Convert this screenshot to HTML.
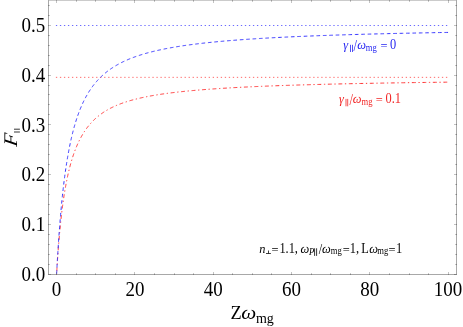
<!DOCTYPE html>
<html><head><meta charset="utf-8"><title>plot</title>
<style>
html,body{margin:0;padding:0;background:#fff;}
body{width:463px;height:327px;overflow:hidden;font-family:"Liberation Serif",serif;}
svg{display:block;font-family:"Liberation Serif",serif;will-change:transform;}
.i{font-style:italic;}
</style></head><body>
<svg width="463" height="327" viewBox="0 0 463 327">
<rect width="463" height="327" fill="#fff"/>
<g fill="none" stroke-width="1">
<line x1="55.90" y1="25.50" x2="448.10" y2="25.50" stroke="#6262ff" stroke-width="0.95" stroke-dasharray="1.3 2.721"/>
<line x1="55.90" y1="77.35" x2="448.10" y2="77.35" stroke="#ff6262" stroke-width="0.95" stroke-dasharray="1.3 2.721"/>
<path d="M56.60,274.30 L56.60,274.29 L56.60,274.28 L56.60,274.24 L56.61,274.19 L56.61,274.12 L56.62,274.03 L56.62,273.92 L56.63,273.79 L56.64,273.64 L56.65,273.47 L56.66,273.28 L56.67,273.07 L56.69,272.83 L56.70,272.57 L56.72,272.29 L56.73,271.99 L56.75,271.66 L56.77,271.31 L56.80,270.94 L56.82,270.55 L56.85,270.13 L56.87,269.70 L56.90,269.24 L56.93,268.75 L56.96,268.25 L56.99,267.72 L57.03,267.17 L57.06,266.60 L57.10,266.01 L57.14,265.39 L57.18,264.76 L57.22,264.10 L57.26,263.43 L57.31,262.73 L57.35,262.02 L57.40,261.29 L57.45,260.53 L57.50,259.76 L57.56,258.97 L57.61,258.17 L57.67,257.34 L57.73,256.50 L57.79,255.64 L57.85,254.77 L57.91,253.88 L57.98,252.98 L58.04,252.06 L58.11,251.13 L58.18,250.18 L58.25,249.23 L58.33,248.25 L58.40,247.27 L58.48,246.28 L58.56,245.27 L58.64,244.26 L58.72,243.23 L58.81,242.19 L58.89,241.15 L58.98,240.09 L59.07,239.03 L59.16,237.96 L59.25,236.89 L59.35,235.80 L59.45,234.71 L59.55,233.62 L59.65,232.52 L59.75,231.41 L59.85,230.30 L59.96,229.19 L60.07,228.07 L60.18,226.95 L60.29,225.83 L60.40,224.71 L60.52,223.58 L60.64,222.45 L60.76,221.32 L60.88,220.19 L61.00,219.06 L61.12,217.93 L61.25,216.80 L61.38,215.67 L61.51,214.54 L61.64,213.41 L61.78,212.28 L61.92,211.16 L62.05,210.04 L62.19,208.92 L62.34,207.80 L62.48,206.69 L62.63,205.58 L62.78,204.47 L62.93,203.37 L63.08,202.27 L63.23,201.17 L63.39,200.08 L63.55,199.00 L63.71,197.92 L63.87,196.84 L64.03,195.77 L64.20,194.70 L64.37,193.64 L64.54,192.59 L64.71,191.54 L64.88,190.49 L65.06,189.46 L65.24,188.43 L65.42,187.40 L65.60,186.38 L65.79,185.37 L65.97,184.37 L66.16,183.37 L66.35,182.37 L66.54,181.39 L66.74,180.41 L66.94,179.44 L67.13,178.48 L67.34,177.52 L67.54,176.57 L67.74,175.63 L67.95,174.69 L68.16,173.76 L68.37,172.84 L68.58,171.93 L68.80,171.02 L69.02,170.13 L69.24,169.23 L69.46,168.35 L69.68,167.47 L69.91,166.61 L70.14,165.74 L70.37,164.89 L70.60,164.04 L70.83,163.21 L71.07,162.37 L71.31,161.55 L71.55,160.73 L71.79,159.93 L72.04,159.12 L72.28,158.33 L72.53,157.54 L72.78,156.76 L73.04,155.99 L73.29,155.23 L73.55,154.47 L73.81,153.72 L74.07,152.98 L74.34,152.24 L74.60,151.51 L74.87,150.79 L75.14,150.08 L75.42,149.37 L75.69,148.67 L75.97,147.98 L76.25,147.29 L76.53,146.61 L76.81,145.94 L77.10,145.27 L77.39,144.61 L77.68,143.96 L77.97,143.32 L78.27,142.68 L78.57,142.05 L78.86,141.42 L79.17,140.80 L79.47,140.19 L79.78,139.58 L80.08,138.98 L80.39,138.39 L80.71,137.80 L81.02,137.22 L81.34,136.65 L81.66,136.08 L81.98,135.52 L82.30,134.96 L82.63,134.41 L82.96,133.86 L83.29,133.33 L83.62,132.79 L83.96,132.27 L84.29,131.75 L84.63,131.23 L84.98,130.72 L85.32,130.22 L85.67,129.72 L86.02,129.22 L86.37,128.74 L86.72,128.25 L87.08,127.78 L87.43,127.30 L87.79,126.84 L88.16,126.38 L88.52,125.92 L88.89,125.47 L89.26,125.02 L89.63,124.58 L90.00,124.15 L90.38,123.72 L90.76,123.29 L91.14,122.87 L91.52,122.45 L91.90,122.04 L92.29,121.63 L92.68,121.23 L93.07,120.83 L93.47,120.44 L93.87,120.05 L94.26,119.66 L94.67,119.28 L95.07,118.91 L95.48,118.53 L95.88,118.17 L96.30,117.80 L96.71,117.44 L97.12,117.09 L97.54,116.74 L97.96,116.39 L98.38,116.05 L98.81,115.71 L99.24,115.37 L99.67,115.04 L100.10,114.72 L100.53,114.39 L100.97,114.07 L101.41,113.76 L101.85,113.44 L102.29,113.13 L102.74,112.83 L103.19,112.53 L103.64,112.23 L104.09,111.93 L104.55,111.64 L105.00,111.35 L105.46,111.07 L105.93,110.79 L106.39,110.51 L106.86,110.23 L107.33,109.96 L107.80,109.69 L108.27,109.42 L108.75,109.16 L109.23,108.90 L109.71,108.64 L110.20,108.39 L110.68,108.14 L111.17,107.89 L111.66,107.65 L112.16,107.40 L112.65,107.16 L113.15,106.93 L113.65,106.69 L114.15,106.46 L114.66,106.23 L115.17,106.00 L115.68,105.78 L116.19,105.56 L116.71,105.34 L117.23,105.12 L117.75,104.91 L118.27,104.69 L118.79,104.48 L119.32,104.28 L119.85,104.07 L120.38,103.87 L120.92,103.67 L121.45,103.47 L121.99,103.27 L122.54,103.08 L123.08,102.89 L123.63,102.70 L124.18,102.51 L124.73,102.32 L125.28,102.14 L125.84,101.96 L126.40,101.78 L126.96,101.60 L127.52,101.43 L128.09,101.25 L128.66,101.08 L129.23,100.91 L129.81,100.74 L130.38,100.57 L130.96,100.41 L131.54,100.25 L132.13,100.08 L132.71,99.92 L133.30,99.77 L133.89,99.61 L134.49,99.45 L135.08,99.30 L135.68,99.15 L136.28,99.00 L136.89,98.85 L137.49,98.70 L138.10,98.56 L138.71,98.41 L139.33,98.27 L139.94,98.13 L140.56,97.99 L141.18,97.85 L141.81,97.71 L142.43,97.57 L143.06,97.44 L143.69,97.31 L144.32,97.17 L144.96,97.04 L145.60,96.91 L146.24,96.79 L146.88,96.66 L147.53,96.53 L148.18,96.41 L148.83,96.28 L149.48,96.16 L150.14,96.04 L150.80,95.92 L151.46,95.80 L152.12,95.68 L152.79,95.57 L153.46,95.45 L154.13,95.34 L154.80,95.22 L155.48,95.11 L156.16,95.00 L156.84,94.89 L157.52,94.78 L158.21,94.67 L158.90,94.57 L159.59,94.46 L160.29,94.35 L160.98,94.25 L161.68,94.15 L162.38,94.04 L163.09,93.94 L163.80,93.84 L164.50,93.74 L165.22,93.64 L165.93,93.54 L166.65,93.45 L167.37,93.35 L168.09,93.25 L168.82,93.16 L169.54,93.06 L170.27,92.97 L171.01,92.88 L171.74,92.79 L172.48,92.70 L173.22,92.61 L173.96,92.52 L174.71,92.43 L175.45,92.34 L176.20,92.25 L176.96,92.17 L177.71,92.08 L178.47,91.99 L179.23,91.91 L180.00,91.83 L180.76,91.74 L181.53,91.66 L182.30,91.58 L183.08,91.50 L183.85,91.42 L184.63,91.34 L185.41,91.26 L186.20,91.18 L186.98,91.10 L187.77,91.03 L188.56,90.95 L189.36,90.87 L190.16,90.80 L190.96,90.72 L191.76,90.65 L192.56,90.58 L193.37,90.50 L194.18,90.43 L194.99,90.36 L195.81,90.29 L196.63,90.22 L197.45,90.15 L198.27,90.08 L199.10,90.01 L199.93,89.94 L200.76,89.87 L201.59,89.80 L202.43,89.74 L203.27,89.67 L204.11,89.61 L204.95,89.54 L205.80,89.47 L206.65,89.41 L207.50,89.35 L208.35,89.28 L209.21,89.22 L210.07,89.16 L210.93,89.10 L211.80,89.03 L212.67,88.97 L213.54,88.91 L214.41,88.85 L215.29,88.79 L216.17,88.73 L217.05,88.67 L217.93,88.62 L218.82,88.56 L219.71,88.50 L220.60,88.44 L221.49,88.39 L222.39,88.33 L223.29,88.27 L224.19,88.22 L225.10,88.16 L226.00,88.11 L226.91,88.05 L227.83,88.00 L228.74,87.95 L229.66,87.89 L230.58,87.84 L231.51,87.79 L232.43,87.73 L233.36,87.68 L234.29,87.63 L235.23,87.58 L236.16,87.53 L237.10,87.48 L238.05,87.43 L238.99,87.38 L239.94,87.33 L240.89,87.28 L241.84,87.23 L242.80,87.19 L243.76,87.14 L244.72,87.09 L245.68,87.04 L246.65,87.00 L247.62,86.95 L248.59,86.90 L249.56,86.86 L250.54,86.81 L251.52,86.77 L252.50,86.72 L253.49,86.68 L254.48,86.63 L255.47,86.59 L256.46,86.54 L257.46,86.50 L258.46,86.46 L259.46,86.42 L260.46,86.37 L261.47,86.33 L262.48,86.29 L263.49,86.25 L264.51,86.20 L265.52,86.16 L266.54,86.12 L267.57,86.08 L268.59,86.04 L269.62,86.00 L270.65,85.96 L271.69,85.92 L272.72,85.88 L273.76,85.84 L274.81,85.80 L275.85,85.77 L276.90,85.73 L277.95,85.69 L279.00,85.65 L280.06,85.61 L281.12,85.58 L282.18,85.54 L283.24,85.50 L284.31,85.47 L285.38,85.43 L286.45,85.39 L287.53,85.36 L288.60,85.32 L289.68,85.29 L290.77,85.25 L291.85,85.22 L292.94,85.18 L294.03,85.15 L295.13,85.11 L296.22,85.08 L297.32,85.04 L298.43,85.01 L299.53,84.98 L300.64,84.94 L301.75,84.91 L302.86,84.88 L303.98,84.85 L305.10,84.81 L306.22,84.78 L307.34,84.75 L308.47,84.72 L309.60,84.69 L310.73,84.65 L311.87,84.62 L313.01,84.59 L314.15,84.56 L315.29,84.53 L316.44,84.50 L317.59,84.47 L318.74,84.44 L319.89,84.41 L321.05,84.38 L322.21,84.35 L323.38,84.32 L324.54,84.29 L325.71,84.26 L326.88,84.23 L328.06,84.20 L329.23,84.18 L330.41,84.15 L331.60,84.12 L332.78,84.09 L333.97,84.06 L335.16,84.04 L336.35,84.01 L337.55,83.98 L338.75,83.95 L339.95,83.93 L341.16,83.90 L342.36,83.87 L343.57,83.85 L344.79,83.82 L346.00,83.79 L347.22,83.77 L348.44,83.74 L349.67,83.71 L350.89,83.69 L352.12,83.66 L353.36,83.64 L354.59,83.61 L355.83,83.59 L357.07,83.56 L358.32,83.54 L359.56,83.51 L360.81,83.49 L362.07,83.46 L363.32,83.44 L364.58,83.42 L365.84,83.39 L367.10,83.37 L368.37,83.34 L369.64,83.32 L370.91,83.30 L372.19,83.27 L373.46,83.25 L374.74,83.23 L376.03,83.21 L377.31,83.18 L378.60,83.16 L379.89,83.14 L381.19,83.11 L382.49,83.09 L383.79,83.07 L385.09,83.05 L386.39,83.03 L387.70,83.00 L389.01,82.98 L390.33,82.96 L391.65,82.94 L392.97,82.92 L394.29,82.90 L395.61,82.88 L396.94,82.86 L398.27,82.83 L399.61,82.81 L400.95,82.79 L402.29,82.77 L403.63,82.75 L404.97,82.73 L406.32,82.71 L407.67,82.69 L409.03,82.67 L410.38,82.65 L411.74,82.63 L413.11,82.61 L414.47,82.59 L415.84,82.57 L417.21,82.55 L418.59,82.53 L419.96,82.52 L421.34,82.50 L422.73,82.48 L424.11,82.46 L425.50,82.44 L426.89,82.42 L428.28,82.40 L429.68,82.38 L431.08,82.37 L432.48,82.35 L433.89,82.33 L435.30,82.31 L436.71,82.29 L438.12,82.28 L439.54,82.26 L440.96,82.24 L442.38,82.22 L443.81,82.21 L445.23,82.19 L446.67,82.17 L448.10,82.15" stroke="#ff3636" stroke-dasharray="1.3 2.65 3.9 2.65" stroke-dashoffset="0.9"/>
<path d="M56.60,274.30 L56.60,274.29 L56.60,274.27 L56.60,274.23 L56.61,274.18 L56.61,274.10 L56.62,274.00 L56.62,273.88 L56.63,273.74 L56.64,273.57 L56.65,273.38 L56.66,273.17 L56.67,272.93 L56.69,272.67 L56.70,272.38 L56.72,272.07 L56.73,271.74 L56.75,271.37 L56.77,270.99 L56.80,270.57 L56.82,270.14 L56.85,269.67 L56.87,269.18 L56.90,268.67 L56.93,268.13 L56.96,267.56 L56.99,266.97 L57.03,266.36 L57.06,265.72 L57.10,265.05 L57.14,264.36 L57.18,263.65 L57.22,262.91 L57.26,262.15 L57.31,261.37 L57.35,260.56 L57.40,259.73 L57.45,258.88 L57.50,258.00 L57.56,257.11 L57.61,256.19 L57.67,255.25 L57.73,254.29 L57.79,253.31 L57.85,252.31 L57.91,251.30 L57.98,250.26 L58.04,249.21 L58.11,248.13 L58.18,247.04 L58.25,245.94 L58.33,244.82 L58.40,243.68 L58.48,242.52 L58.56,241.36 L58.64,240.17 L58.72,238.98 L58.81,237.77 L58.89,236.55 L58.98,235.32 L59.07,234.07 L59.16,232.81 L59.25,231.55 L59.35,230.27 L59.45,228.99 L59.55,227.69 L59.65,226.39 L59.75,225.08 L59.85,223.76 L59.96,222.43 L60.07,221.10 L60.18,219.76 L60.29,218.42 L60.40,217.07 L60.52,215.72 L60.64,214.36 L60.76,213.00 L60.88,211.64 L61.00,210.28 L61.12,208.91 L61.25,207.54 L61.38,206.17 L61.51,204.80 L61.64,203.43 L61.78,202.05 L61.92,200.68 L62.05,199.31 L62.19,197.94 L62.34,196.57 L62.48,195.21 L62.63,193.84 L62.78,192.48 L62.93,191.12 L63.08,189.76 L63.23,188.41 L63.39,187.06 L63.55,185.71 L63.71,184.37 L63.87,183.04 L64.03,181.70 L64.20,180.38 L64.37,179.06 L64.54,177.74 L64.71,176.43 L64.88,175.13 L65.06,173.83 L65.24,172.54 L65.42,171.25 L65.60,169.97 L65.79,168.70 L65.97,167.43 L66.16,166.18 L66.35,164.93 L66.54,163.68 L66.74,162.45 L66.94,161.22 L67.13,160.00 L67.34,158.79 L67.54,157.59 L67.74,156.39 L67.95,155.21 L68.16,154.03 L68.37,152.86 L68.58,151.70 L68.80,150.54 L69.02,149.40 L69.24,148.26 L69.46,147.14 L69.68,146.02 L69.91,144.91 L70.14,143.81 L70.37,142.72 L70.60,141.64 L70.83,140.56 L71.07,139.50 L71.31,138.44 L71.55,137.40 L71.79,136.36 L72.04,135.33 L72.28,134.31 L72.53,133.31 L72.78,132.30 L73.04,131.31 L73.29,130.33 L73.55,129.36 L73.81,128.39 L74.07,127.44 L74.34,126.49 L74.60,125.55 L74.87,124.62 L75.14,123.70 L75.42,122.79 L75.69,121.89 L75.97,121.00 L76.25,120.11 L76.53,119.24 L76.81,118.37 L77.10,117.51 L77.39,116.66 L77.68,115.82 L77.97,114.98 L78.27,114.16 L78.57,113.34 L78.86,112.53 L79.17,111.73 L79.47,110.94 L79.78,110.16 L80.08,109.38 L80.39,108.61 L80.71,107.85 L81.02,107.10 L81.34,106.36 L81.66,105.62 L81.98,104.89 L82.30,104.17 L82.63,103.46 L82.96,102.75 L83.29,102.05 L83.62,101.36 L83.96,100.68 L84.29,100.00 L84.63,99.33 L84.98,98.67 L85.32,98.02 L85.67,97.37 L86.02,96.73 L86.37,96.09 L86.72,95.47 L87.08,94.85 L87.43,94.23 L87.79,93.62 L88.16,93.02 L88.52,92.43 L88.89,91.84 L89.26,91.26 L89.63,90.68 L90.00,90.11 L90.38,89.55 L90.76,89.00 L91.14,88.44 L91.52,87.90 L91.90,87.36 L92.29,86.83 L92.68,86.30 L93.07,85.78 L93.47,85.26 L93.87,84.75 L94.26,84.25 L94.67,83.75 L95.07,83.25 L95.48,82.77 L95.88,82.28 L96.30,81.80 L96.71,81.33 L97.12,80.86 L97.54,80.40 L97.96,79.94 L98.38,79.49 L98.81,79.04 L99.24,78.60 L99.67,78.16 L100.10,77.73 L100.53,77.30 L100.97,76.88 L101.41,76.46 L101.85,76.04 L102.29,75.63 L102.74,75.22 L103.19,74.82 L103.64,74.42 L104.09,74.03 L104.55,73.64 L105.00,73.26 L105.46,72.88 L105.93,72.50 L106.39,72.13 L106.86,71.76 L107.33,71.39 L107.80,71.03 L108.27,70.68 L108.75,70.32 L109.23,69.97 L109.71,69.63 L110.20,69.28 L110.68,68.95 L111.17,68.61 L111.66,68.28 L112.16,67.95 L112.65,67.63 L113.15,67.30 L113.65,66.99 L114.15,66.67 L114.66,66.36 L115.17,66.05 L115.68,65.75 L116.19,65.44 L116.71,65.15 L117.23,64.85 L117.75,64.56 L118.27,64.27 L118.79,63.98 L119.32,63.70 L119.85,63.42 L120.38,63.14 L120.92,62.86 L121.45,62.59 L121.99,62.32 L122.54,62.05 L123.08,61.79 L123.63,61.53 L124.18,61.27 L124.73,61.01 L125.28,60.76 L125.84,60.51 L126.40,60.26 L126.96,60.01 L127.52,59.77 L128.09,59.53 L128.66,59.29 L129.23,59.05 L129.81,58.82 L130.38,58.58 L130.96,58.36 L131.54,58.13 L132.13,57.90 L132.71,57.68 L133.30,57.46 L133.89,57.24 L134.49,57.02 L135.08,56.81 L135.68,56.59 L136.28,56.38 L136.89,56.18 L137.49,55.97 L138.10,55.76 L138.71,55.56 L139.33,55.36 L139.94,55.16 L140.56,54.97 L141.18,54.77 L141.81,54.58 L142.43,54.39 L143.06,54.20 L143.69,54.01 L144.32,53.82 L144.96,53.64 L145.60,53.45 L146.24,53.27 L146.88,53.09 L147.53,52.92 L148.18,52.74 L148.83,52.57 L149.48,52.39 L150.14,52.22 L150.80,52.05 L151.46,51.88 L152.12,51.72 L152.79,51.55 L153.46,51.39 L154.13,51.22 L154.80,51.06 L155.48,50.90 L156.16,50.75 L156.84,50.59 L157.52,50.43 L158.21,50.28 L158.90,50.13 L159.59,49.98 L160.29,49.83 L160.98,49.68 L161.68,49.53 L162.38,49.39 L163.09,49.24 L163.80,49.10 L164.50,48.95 L165.22,48.81 L165.93,48.67 L166.65,48.54 L167.37,48.40 L168.09,48.26 L168.82,48.13 L169.54,47.99 L170.27,47.86 L171.01,47.73 L171.74,47.60 L172.48,47.47 L173.22,47.34 L173.96,47.21 L174.71,47.09 L175.45,46.96 L176.20,46.84 L176.96,46.71 L177.71,46.59 L178.47,46.47 L179.23,46.35 L180.00,46.23 L180.76,46.11 L181.53,46.00 L182.30,45.88 L183.08,45.76 L183.85,45.65 L184.63,45.54 L185.41,45.42 L186.20,45.31 L186.98,45.20 L187.77,45.09 L188.56,44.98 L189.36,44.87 L190.16,44.77 L190.96,44.66 L191.76,44.55 L192.56,44.45 L193.37,44.35 L194.18,44.24 L194.99,44.14 L195.81,44.04 L196.63,43.94 L197.45,43.84 L198.27,43.74 L199.10,43.64 L199.93,43.54 L200.76,43.45 L201.59,43.35 L202.43,43.25 L203.27,43.16 L204.11,43.07 L204.95,42.97 L205.80,42.88 L206.65,42.79 L207.50,42.70 L208.35,42.61 L209.21,42.52 L210.07,42.43 L210.93,42.34 L211.80,42.25 L212.67,42.16 L213.54,42.08 L214.41,41.99 L215.29,41.91 L216.17,41.82 L217.05,41.74 L217.93,41.65 L218.82,41.57 L219.71,41.49 L220.60,41.41 L221.49,41.33 L222.39,41.25 L223.29,41.17 L224.19,41.09 L225.10,41.01 L226.00,40.93 L226.91,40.85 L227.83,40.78 L228.74,40.70 L229.66,40.62 L230.58,40.55 L231.51,40.47 L232.43,40.40 L233.36,40.32 L234.29,40.25 L235.23,40.18 L236.16,40.11 L237.10,40.03 L238.05,39.96 L238.99,39.89 L239.94,39.82 L240.89,39.75 L241.84,39.68 L242.80,39.62 L243.76,39.55 L244.72,39.48 L245.68,39.41 L246.65,39.34 L247.62,39.28 L248.59,39.21 L249.56,39.15 L250.54,39.08 L251.52,39.02 L252.50,38.95 L253.49,38.89 L254.48,38.83 L255.47,38.76 L256.46,38.70 L257.46,38.64 L258.46,38.58 L259.46,38.52 L260.46,38.45 L261.47,38.39 L262.48,38.33 L263.49,38.27 L264.51,38.22 L265.52,38.16 L266.54,38.10 L267.57,38.04 L268.59,37.98 L269.62,37.93 L270.65,37.87 L271.69,37.81 L272.72,37.76 L273.76,37.70 L274.81,37.64 L275.85,37.59 L276.90,37.53 L277.95,37.48 L279.00,37.43 L280.06,37.37 L281.12,37.32 L282.18,37.27 L283.24,37.21 L284.31,37.16 L285.38,37.11 L286.45,37.06 L287.53,37.01 L288.60,36.96 L289.68,36.90 L290.77,36.85 L291.85,36.80 L292.94,36.75 L294.03,36.70 L295.13,36.66 L296.22,36.61 L297.32,36.56 L298.43,36.51 L299.53,36.46 L300.64,36.41 L301.75,36.37 L302.86,36.32 L303.98,36.27 L305.10,36.23 L306.22,36.18 L307.34,36.14 L308.47,36.09 L309.60,36.04 L310.73,36.00 L311.87,35.95 L313.01,35.91 L314.15,35.87 L315.29,35.82 L316.44,35.78 L317.59,35.74 L318.74,35.69 L319.89,35.65 L321.05,35.61 L322.21,35.56 L323.38,35.52 L324.54,35.48 L325.71,35.44 L326.88,35.40 L328.06,35.36 L329.23,35.32 L330.41,35.27 L331.60,35.23 L332.78,35.19 L333.97,35.15 L335.16,35.11 L336.35,35.07 L337.55,35.04 L338.75,35.00 L339.95,34.96 L341.16,34.92 L342.36,34.88 L343.57,34.84 L344.79,34.81 L346.00,34.77 L347.22,34.73 L348.44,34.69 L349.67,34.66 L350.89,34.62 L352.12,34.58 L353.36,34.55 L354.59,34.51 L355.83,34.47 L357.07,34.44 L358.32,34.40 L359.56,34.37 L360.81,34.33 L362.07,34.30 L363.32,34.26 L364.58,34.23 L365.84,34.19 L367.10,34.16 L368.37,34.13 L369.64,34.09 L370.91,34.06 L372.19,34.02 L373.46,33.99 L374.74,33.96 L376.03,33.93 L377.31,33.89 L378.60,33.86 L379.89,33.83 L381.19,33.80 L382.49,33.76 L383.79,33.73 L385.09,33.70 L386.39,33.67 L387.70,33.64 L389.01,33.61 L390.33,33.58 L391.65,33.55 L392.97,33.52 L394.29,33.48 L395.61,33.45 L396.94,33.42 L398.27,33.39 L399.61,33.36 L400.95,33.34 L402.29,33.31 L403.63,33.28 L404.97,33.25 L406.32,33.22 L407.67,33.19 L409.03,33.16 L410.38,33.13 L411.74,33.10 L413.11,33.08 L414.47,33.05 L415.84,33.02 L417.21,32.99 L418.59,32.96 L419.96,32.94 L421.34,32.91 L422.73,32.88 L424.11,32.86 L425.50,32.83 L426.89,32.80 L428.28,32.78 L429.68,32.75 L431.08,32.72 L432.48,32.70 L433.89,32.67 L435.30,32.64 L436.71,32.62 L438.12,32.59 L439.54,32.57 L440.96,32.54 L442.38,32.52 L443.81,32.49 L445.23,32.47 L446.67,32.44 L448.10,32.42" stroke="#3636ff" stroke-dasharray="3.6 2.8" stroke-dashoffset="-0.4"/>
</g>
<g stroke="#000" stroke-opacity="0.34" stroke-width="1" fill="none">
<rect x="48.5" y="0.1" width="408.0" height="274.4"/>
<path d="M56.50,275.00 v-3.00 M56.50,0.00 v3.00 M76.50,275.00 v-1.90 M76.50,0.00 v1.90 M95.50,275.00 v-1.90 M95.50,0.00 v1.90 M115.50,275.00 v-1.90 M115.50,0.00 v1.90 M134.50,275.00 v-3.00 M134.50,0.00 v3.00 M154.50,275.00 v-1.90 M154.50,0.00 v1.90 M174.50,275.00 v-1.90 M174.50,0.00 v1.90 M193.50,275.00 v-1.90 M193.50,0.00 v1.90 M213.50,275.00 v-3.00 M213.50,0.00 v3.00 M232.50,275.00 v-1.90 M232.50,0.00 v1.90 M252.50,275.00 v-1.90 M252.50,0.00 v1.90 M271.50,275.00 v-1.90 M271.50,0.00 v1.90 M291.50,275.00 v-3.00 M291.50,0.00 v3.00 M311.50,275.00 v-1.90 M311.50,0.00 v1.90 M330.50,275.00 v-1.90 M330.50,0.00 v1.90 M350.50,275.00 v-1.90 M350.50,0.00 v1.90 M369.50,275.00 v-3.00 M369.50,0.00 v3.00 M389.50,275.00 v-1.90 M389.50,0.00 v1.90 M409.50,275.00 v-1.90 M409.50,0.00 v1.90 M428.50,275.00 v-1.90 M428.50,0.00 v1.90 M448.50,275.00 v-3.00 M448.50,0.00 v3.00 M48.00,274.50 h3.00 M457.00,274.50 h-3.00 M48.00,264.50 h1.90 M457.00,264.50 h-1.90 M48.00,254.50 h1.90 M457.00,254.50 h-1.90 M48.00,244.50 h1.90 M457.00,244.50 h-1.90 M48.00,234.50 h1.90 M457.00,234.50 h-1.90 M48.00,224.50 h3.00 M457.00,224.50 h-3.00 M48.00,214.50 h1.90 M457.00,214.50 h-1.90 M48.00,204.50 h1.90 M457.00,204.50 h-1.90 M48.00,194.50 h1.90 M457.00,194.50 h-1.90 M48.00,184.50 h1.90 M457.00,184.50 h-1.90 M48.00,174.50 h3.00 M457.00,174.50 h-3.00 M48.00,164.50 h1.90 M457.00,164.50 h-1.90 M48.00,154.50 h1.90 M457.00,154.50 h-1.90 M48.00,144.50 h1.90 M457.00,144.50 h-1.90 M48.00,134.50 h1.90 M457.00,134.50 h-1.90 M48.00,124.50 h3.00 M457.00,124.50 h-3.00 M48.00,114.50 h1.90 M457.00,114.50 h-1.90 M48.00,104.50 h1.90 M457.00,104.50 h-1.90 M48.00,94.50 h1.90 M457.00,94.50 h-1.90 M48.00,85.50 h1.90 M457.00,85.50 h-1.90 M48.00,75.50 h3.00 M457.00,75.50 h-3.00 M48.00,65.50 h1.90 M457.00,65.50 h-1.90 M48.00,55.50 h1.90 M457.00,55.50 h-1.90 M48.00,45.50 h1.90 M457.00,45.50 h-1.90 M48.00,35.50 h1.90 M457.00,35.50 h-1.90 M48.00,25.50 h3.00 M457.00,25.50 h-3.00 M48.00,15.50 h1.90 M457.00,15.50 h-1.90 M48.00,5.50 h1.90 M457.00,5.50 h-1.90" stroke-width="1" stroke-opacity="0.24"/>
</g>
<text id="xt0" transform="translate(56.60,295.50) scale(1.000,1.080)" font-size="19.00" fill="#000" text-anchor="middle">0</text>
<text id="xt20" transform="translate(134.90,295.50) scale(1.000,1.080)" font-size="19.00" fill="#000" text-anchor="middle">20</text>
<text id="xt40" transform="translate(213.20,295.50) scale(1.000,1.080)" font-size="19.00" fill="#000" text-anchor="middle">40</text>
<text id="xt60" transform="translate(291.50,295.50) scale(1.000,1.080)" font-size="19.00" fill="#000" text-anchor="middle">60</text>
<text id="xt80" transform="translate(369.80,295.50) scale(1.000,1.080)" font-size="19.00" fill="#000" text-anchor="middle">80</text>
<text id="xt100" transform="translate(448.10,295.50) scale(1.000,1.080)" font-size="19.00" fill="#000" text-anchor="middle">100</text>
<text id="yt0" transform="translate(45.30,281.00) scale(1.000,1.080)" font-size="19.00" fill="#000" text-anchor="end">0.0</text>
<text id="yt1" transform="translate(45.30,231.24) scale(1.000,1.080)" font-size="19.00" fill="#000" text-anchor="end">0.1</text>
<text id="yt2" transform="translate(45.30,181.48) scale(1.000,1.080)" font-size="19.00" fill="#000" text-anchor="end">0.2</text>
<text id="yt3" transform="translate(45.30,131.72) scale(1.000,1.080)" font-size="19.00" fill="#000" text-anchor="end">0.3</text>
<text id="yt4" transform="translate(45.30,81.96) scale(1.000,1.080)" font-size="19.00" fill="#000" text-anchor="end">0.4</text>
<text id="yt5" transform="translate(45.30,32.20) scale(1.000,1.080)" font-size="19.00" fill="#000" text-anchor="end">0.5</text>
<text id="xlZ" x="230.60" y="318.70" font-size="18.30" fill="#000">Z</text>
<text id="xlw" transform="translate(241.20,318.70) scale(1.160,1.000)" font-size="18.30" fill="#000" class="i">ω</text>
<text id="xlmg" x="255.90" y="322.60" font-size="14.00" fill="#000">mg</text>
<text id="bg" transform="translate(343.30,49.00) scale(1.000,1.030)" font-size="12.40" fill="#2626f2" class="i">γ</text>
<text id="bs" transform="translate(353.50,50.60) scale(1.000,1.300)" font-size="12.40" fill="#2626f2">/</text>
<text id="bw" transform="translate(357.30,49.00) scale(1.000,1.030)" font-size="12.40" fill="#2626f2" class="i">ω</text>
<text id="bmg" transform="translate(365.80,50.90) scale(1.000,1.100)" font-size="8.60" fill="#2626f2">mg</text>
<text id="beq" x="380.50" y="49.90" font-size="12.40" fill="#2626f2">=</text>
<text id="bv" transform="translate(390.00,49.00) scale(1.000,1.110)" font-size="12.40" fill="#2626f2">0</text>
<text id="rg" transform="translate(339.00,103.00) scale(1.000,1.030)" font-size="12.40" fill="#f22626" class="i">γ</text>
<text id="rs" transform="translate(349.40,104.60) scale(1.000,1.300)" font-size="12.40" fill="#f22626">/</text>
<text id="rw" transform="translate(352.80,103.00) scale(1.000,1.030)" font-size="12.40" fill="#f22626" class="i">ω</text>
<text id="rmg" transform="translate(361.60,104.90) scale(1.000,1.100)" font-size="8.60" fill="#f22626">mg</text>
<text id="req" x="375.80" y="103.90" font-size="12.40" fill="#f22626">=</text>
<text id="rv" transform="translate(385.50,103.00) scale(1.000,1.110)" font-size="12.40" fill="#f22626">0.1</text>
<text id="an" transform="translate(259.30,252.80) scale(1.000,1.030)" font-size="12.40" fill="#000" class="i">n</text>
<text id="ae1" x="271.50" y="253.70" font-size="12.40" fill="#000">=</text>
<text id="a1" transform="translate(279.40,252.80) scale(1.000,1.110)" font-size="12.40" fill="#000">1.1,</text>
<text id="aw1" transform="translate(300.50,252.80) scale(1.000,1.030)" font-size="12.40" fill="#000" class="i">ω</text>
<text id="aP" transform="translate(309.00,254.70) scale(1.000,1.080)" font-size="8.60" fill="#000" class="i">P</text>
<text id="as" transform="translate(318.70,254.40) scale(1.000,1.220)" font-size="12.40" fill="#000">/</text>
<text id="aw2" transform="translate(322.00,252.80) scale(1.000,1.030)" font-size="12.40" fill="#000" class="i">ω</text>
<text id="amg2" transform="translate(330.80,254.30) scale(1.000,1.100)" font-size="8.60" fill="#000">mg</text>
<text id="ae2" x="342.80" y="253.70" font-size="12.40" fill="#000">=</text>
<text id="a2" transform="translate(349.80,252.80) scale(1.000,1.110)" font-size="12.40" fill="#000">1,</text>
<text id="aL" transform="translate(361.20,252.80) scale(1.000,1.110)" font-size="12.40" fill="#000">L</text>
<text id="aw3" transform="translate(369.20,252.80) scale(1.000,1.030)" font-size="12.40" fill="#000" class="i">ω</text>
<text id="amg3" transform="translate(377.30,254.30) scale(1.000,1.100)" font-size="8.60" fill="#000">mg</text>
<text id="ae3" x="388.50" y="253.70" font-size="12.40" fill="#000">=</text>
<text id="a3" transform="translate(395.90,252.80) scale(1.000,1.110)" font-size="12.40" fill="#000">1</text>
<g id="ylab" transform="translate(17.0,147.0) rotate(-90) scale(1.10,1) skewX(-7)"><text x="0" y="0" font-size="19.3" fill="#000" class="i">F</text></g>
<path id="bpar" d="M350.50,44.80 V52.00 M352.50,44.80 V52.00" stroke="#2626f2" stroke-width="0.80" fill="none"/>
<path id="rpar" d="M346.00,98.90 V106.30 M347.70,98.90 V106.30" stroke="#f22626" stroke-width="0.80" fill="none"/>
<path id="apar" d="M314.60,248.30 V255.90 M316.60,248.30 V255.90" stroke="#000" stroke-width="0.80" fill="none"/>
<path id="ypar" d="M14.0,129.2 H19.9 M14.0,132.0 H19.9" stroke="#000" stroke-width="0.8" fill="none"/>
<path id="aperp" d="M266.0,253.5 H270.9 M268.5,253.5 V250.5" stroke="#000" stroke-width="0.75" fill="none"/>
</svg></body></html>
